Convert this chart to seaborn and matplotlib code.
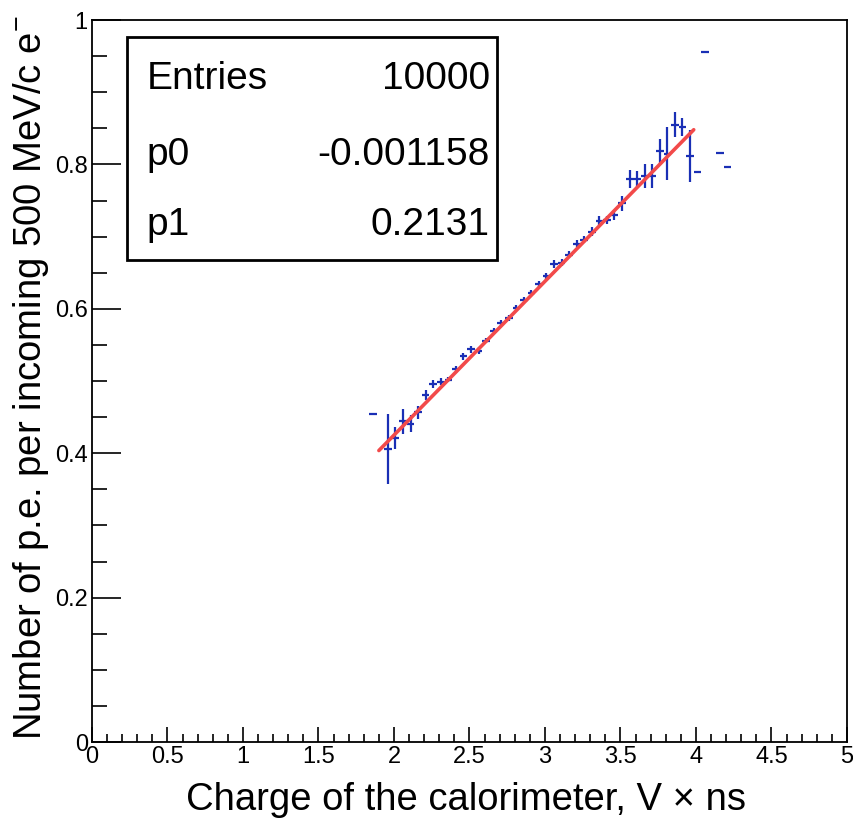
import numpy as np
import pandas as pd
import matplotlib
matplotlib.use("Agg")
import matplotlib.pyplot as plt
import seaborn as sns
from matplotlib.ticker import MultipleLocator
from matplotlib.patches import Rectangle

# ---- data ----
bin_centers = [1.86, 1.96, 2.01, 2.06, 2.11, 2.16, 2.21, 2.26, 2.31, 2.36,
               2.41, 2.46, 2.51, 2.56, 2.61, 2.66, 2.71, 2.76, 2.81, 2.86,
               2.91, 2.96, 3.01, 3.06, 3.11, 3.16, 3.21, 3.26, 3.31, 3.36,
               3.41, 3.46, 3.51, 3.56, 3.61, 3.66, 3.71, 3.76, 3.81, 3.86,
               3.91, 3.96, 4.01, 4.06, 4.16, 4.21]
profile_vals = [0.455, 0.406, 0.421, 0.444, 0.441, 0.457, 0.481, 0.496, 0.499, 0.502,
                0.516, 0.534, 0.544, 0.542, 0.556, 0.569, 0.580, 0.587, 0.601, 0.612,
                0.622, 0.634, 0.645, 0.662, 0.664, 0.675, 0.690, 0.696, 0.707, 0.722,
                0.723, 0.730, 0.746, 0.780, 0.780, 0.784, 0.784, 0.818, 0.815, 0.855,
                0.852, 0.811, 0.790, 0.956, 0.816, 0.796]
profile_errs = [0.0, 0.048, 0.015, 0.017, 0.012, 0.009, 0.007, 0.006, 0.005, 0.004,
                0.005, 0.005, 0.005, 0.005, 0.004, 0.004, 0.004, 0.004, 0.004, 0.004,
                0.004, 0.004, 0.004, 0.005, 0.005, 0.005, 0.005, 0.005, 0.006, 0.006,
                0.006, 0.007, 0.010, 0.012, 0.011, 0.016, 0.016, 0.017, 0.037, 0.017,
                0.012, 0.036, 0.0, 0.0, 0.0, 0.0]
bin_half_width = 0.025
fit_p0 = -0.001158
fit_p1 = 0.2131
fit_range = [1.9, 3.985]
stats_labels = ["Entries", "p0", "p1"]
stats_values = ["10000", "-0.001158", "0.2131"]
xtick_vals = [0, 0.5, 1, 1.5, 2, 2.5, 3, 3.5, 4, 4.5, 5]
xtick_text = ["0", "0.5", "1", "1.5", "2", "2.5", "3", "3.5", "4", "4.5", "5"]
ytick_vals = [0, 0.2, 0.4, 0.6, 0.8, 1.0]
ytick_text = ["0", "0.2", "0.4", "0.6", "0.8", "1"]

xlabel = "Charge of the calorimeter, V \u00d7 ns"
ylabel = "Number of p.e. per incoming 500 MeV/c e$^{-}$"

# ---- style ----
sns.set_style("white")
plt.rcParams['font.family'] = ['Liberation Sans', 'DejaVu Sans']
plt.rcParams['mathtext.fontset'] = 'custom'
plt.rcParams['mathtext.rm'] = 'Liberation Sans'
plt.rcParams['mathtext.it'] = 'Liberation Sans'
plt.rcParams['text.color'] = 'black'
plt.rcParams['axes.labelcolor'] = 'black'
plt.rcParams['xtick.color'] = 'black'
plt.rcParams['ytick.color'] = 'black'

fig = plt.figure(figsize=(8.54, 8.21), dpi=100)
ax = fig.add_axes([0.1077, 0.0962, 0.9918 - 0.1077, 0.9756 - 0.0962])

df = pd.DataFrame({"x": bin_centers, "y": profile_vals, "err": profile_errs})
ax.errorbar(df["x"], df["y"], yerr=df["err"], xerr=bin_half_width,
            fmt='none', ecolor='#1a2fb5', elinewidth=1.6, capsize=0, zorder=2)

fx = np.linspace(fit_range[0], fit_range[1], 50)
fit_df = pd.DataFrame({"x": fx, "y": fit_p0 + fit_p1 * fx})
sns.lineplot(data=fit_df, x="x", y="y", ax=ax, color='#f24a4a', linewidth=2.6, zorder=3)

ax.set_xlim(0, 5)
ax.set_ylim(0, 1)
ax.xaxis.set_minor_locator(MultipleLocator(0.1))
ax.yaxis.set_minor_locator(MultipleLocator(0.05))
ax.set_xticks(xtick_vals)
ax.set_xticklabels(xtick_text)
ax.set_yticks(ytick_vals)
ax.set_yticklabels(ytick_text)
ax.tick_params(axis='x', which='major', direction='in', length=11, width=1.2,
               labelsize=17, pad=3, bottom=True, top=False, colors='black')
ax.tick_params(axis='x', which='minor', direction='in', length=6, width=1.2,
               bottom=True, top=False, colors='black')
ax.tick_params(axis='y', which='major', direction='in', length=21, width=1.2,
               labelsize=17, pad=3, left=True, right=False, colors='black')
ax.tick_params(axis='y', which='minor', direction='in', length=11, width=1.2,
               left=True, right=False, colors='black')
for s in ax.spines.values():
    s.set_color('black')
    s.set_linewidth(1.3)

ax.set_xlabel(xlabel, fontsize=27.5, va='center', ha='center', color='black')
ax.xaxis.set_label_coords(0.495, (742 - 800) / 722)
ax.set_ylabel(ylabel, fontsize=27.5, va='center', ha='center', color='black')
ax.yaxis.set_label_coords((31 - 92) / 755, 0.505)

# stats box
ax.add_patch(Rectangle((0.0464, 0.6676), 0.536 - 0.0464, 0.9765 - 0.6676,
                       transform=ax.transAxes, fill=True, facecolor='white',
                       edgecolor='black', linewidth=2, zorder=5))
rows_y = [0.904, 0.7988, 0.7018]
for lab, val, yy in zip(stats_labels, stats_values, rows_y):
    ax.text(0.0728, yy, lab, transform=ax.transAxes, fontsize=28,
            ha='left', va='baseline', zorder=6, color='black')
    ax.text(0.527, yy, val, transform=ax.transAxes, fontsize=28,
            ha='right', va='baseline', zorder=6, color='black')

fig.savefig("out.png", dpi=100)
